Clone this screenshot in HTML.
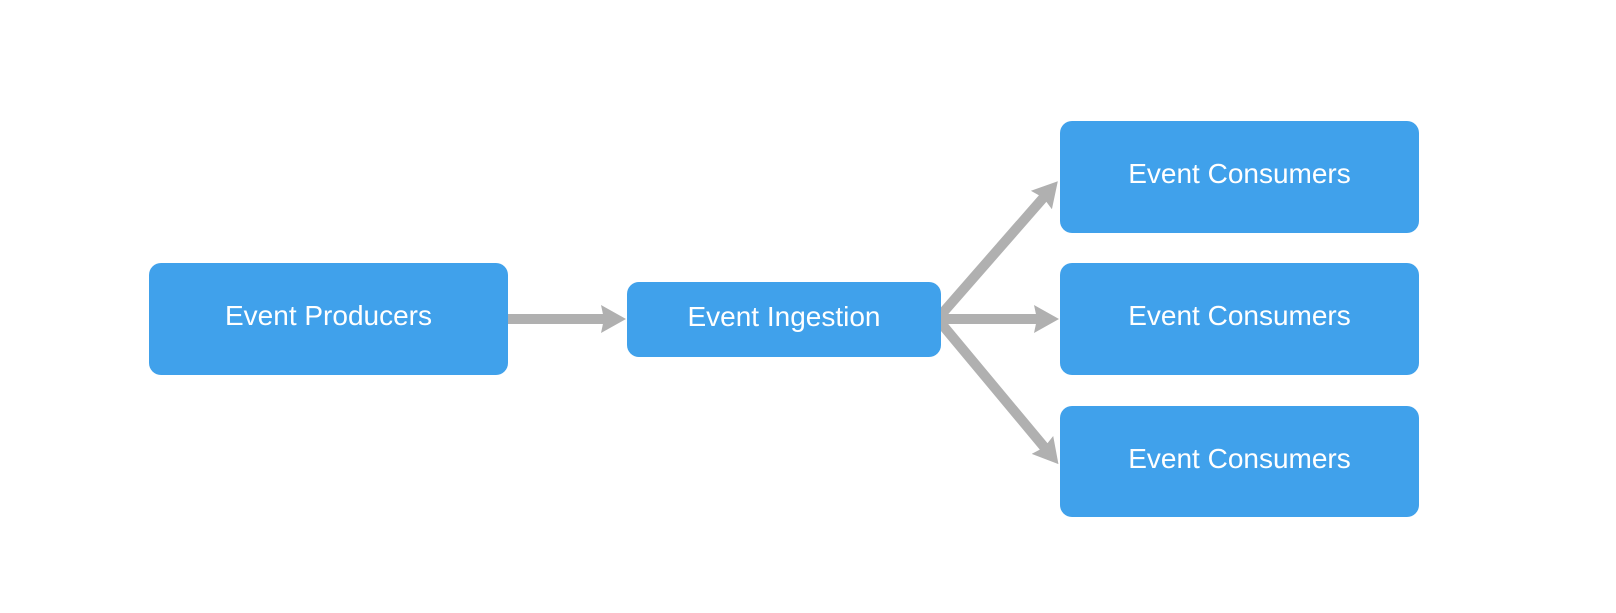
<!DOCTYPE html>
<html><head><style>
html,body{margin:0;padding:0;background:#fff;}
.b{position:absolute;box-sizing:border-box;padding-bottom:6px;background:#40a1eb;border-radius:12px;color:#fff;font-family:"Liberation Sans",sans-serif;font-size:28px;display:flex;align-items:center;justify-content:center;}
</style></head><body>
<div style="position:relative;width:1616px;height:613px;overflow:hidden">
<svg width="1616" height="613" style="position:absolute;left:0;top:0">
<defs><marker id="a" markerWidth="26" markerHeight="30" refX="4" refY="14" orient="auto" markerUnits="userSpaceOnUse"><path d="M0,0 L25,14 L0,28 L3,14 Z" fill="#b0b0b0"/></marker></defs>
<g stroke="#b0b0b0" stroke-width="10" fill="none">
<line x1="508" y1="319" x2="605" y2="319" marker-end="url(#a)"/>
<line x1="938" y1="319" x2="1038" y2="319" marker-end="url(#a)"/>
<line x1="940" y1="316" x2="1044" y2="197" marker-end="url(#a)"/>
<line x1="940" y1="322" x2="1045" y2="448" marker-end="url(#a)"/>
</g>
</svg>
<div class="b" style="left:149px;top:263px;width:359px;height:112px">Event Producers</div>
<div class="b" style="left:627px;top:282px;width:314px;height:75px">Event Ingestion</div>
<div class="b" style="left:1060px;top:121px;width:359px;height:112px">Event Consumers</div>
<div class="b" style="left:1060px;top:263px;width:359px;height:112px">Event Consumers</div>
<div class="b" style="left:1060px;top:406px;width:359px;height:111px">Event Consumers</div>
</div>
</body></html>
